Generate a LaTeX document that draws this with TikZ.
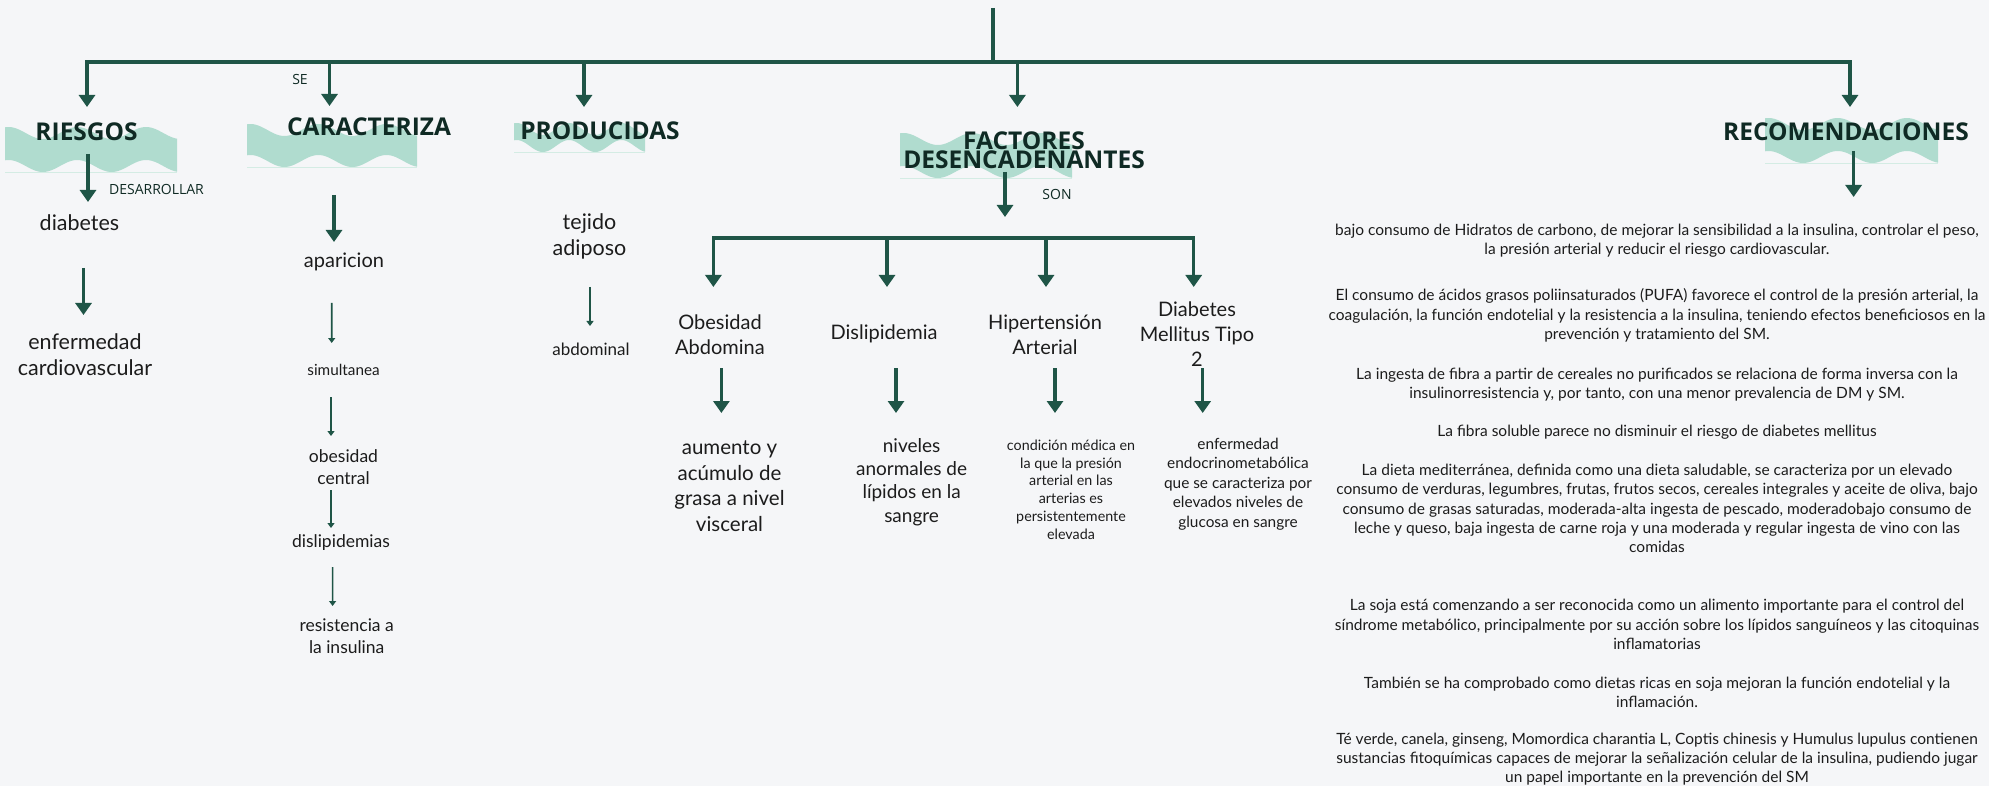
\documentclass[tikz,border=0pt]{standalone}
\usepackage{fontspec}
\setmainfont{Lato}
\newfontfamily\headfont{Open Sans}
\usetikzlibrary{arrows.meta,calc}

\definecolor{bg}{HTML}{F5F6F8}
\definecolor{ink}{HTML}{1F5547}
\definecolor{mint}{HTML}{B0DCCF}
\definecolor{headink}{HTML}{0F2A24}
\definecolor{txt}{HTML}{1C1C1C}

\newcommand\fs[2]{\fontsize{#1}{#2}\selectfont}

% wavy mint ribbon behind a heading: x0, y0, width, height
\newcommand\ribbon[4]{%
  \fill[mint] plot[domain=0:#3, samples=80, smooth]
      ({#1+\x},{#2+6+6*cos(900*(\x/#3-0.22))})
    -- plot[domain=#3:0, samples=80, smooth]
      ({#1+\x},{#2+#4-6+6*cos(900*(\x/#3-0.22))}) -- cycle;
  \draw[mint!55, line width=0.8pt] (#1,#2+#4) -- (#1+#3,#2+#4);
}

\tikzset{
  bus/.style={ink, line width=3.5pt},
  arr/.style={ink, line width=3.4pt, -{Triangle[width=16pt,length=12pt]}},
  thinarr/.style={ink, line width=1.6pt, -{Triangle[width=7pt,length=5pt]}},
  head/.style={font=\headfont\bfseries\fs{24.5}{19}, text=headink, inner sep=0pt, align=center},
  lbl/.style={font=\headfont\fs{14}{16}, text=headink, inner sep=0pt},
  txtnode/.style={text=txt, inner sep=0pt, align=center},
  para/.style={txtnode, font=\fs{15.5}{19.3}},
}

\begin{document}
\begin{tikzpicture}[x=1pt,y=-1pt]
\useasboundingbox (0,0) rectangle (1989,786);
\fill[bg] (0,0) rectangle (1989,786);

% ribbons behind the headings
\ribbon{5}{127}{172}{45}
\ribbon{247}{124}{170}{43}
\ribbon{514}{123}{131}{29}
\ribbon{900}{133}{172}{45}
\ribbon{1765}{118}{173}{45}

% headings
\node[head] (riesgos) at (86.6,132) {RIESGOS};
\node[head] (cara) at (369,127) {CARACTERIZA};
\node[head] (prod) at (600,131) {PRODUCIDAS};
\node[head] (fact) at (1024,150) {FACTORES\\DESENCADENANTES};
\node[head] (recom) at (1846,132) {RECOMENDACIONES};

% main bus
\coordinate (root) at (993,8);
\coordinate (jr) at (993,62);
\coordinate (bL) at (87,62);
\coordinate (bC) at (329.5,62);
\coordinate (bP) at (584,62);
\coordinate (bF) at (1017.4,62);
\coordinate (bR) at (1850,62);
\draw[bus] (root) -- (jr);
\draw[arr, {Triangle[width=16pt,length=12pt]}-{Triangle[width=16pt,length=12pt]}, line join=miter]
  ($(bL |- riesgos.center)+(0,-25)$) -- (bL) -- (bR) -- ($(bR |- recom.center)+(0,-25)$);
\draw[arr] (bC) -- ($(bC |- cara.center)+(0,-21)$);
\draw[arr] (bP) -- ($(bP |- prod.center)+(0,-24)$);
\draw[arr] (bF) -- ($(bF |- fact.center)+(0,-43)$);

% small link words
\node[lbl] (se) at (300,80) {SE};
\node[lbl] (desa) at (156.5,189) {DESARROLLAR};
\node[lbl] (son) at (1057,194) {SON};

% RIESGOS branch
\node[txtnode, font=\fs{21.5}{26}] (diab) at (79.5,223) {diabetes};
\node[txtnode, font=\fs{21.5}{26}] (enf) at (85,355) {enfermedad\\cardiovascular};
\draw[arr] ($(riesgos.center)+(1.4,22)$) -- ($(diab.center)+(8.5,-21)$);
\draw[arr] ($(diab.center)+(4,45)$) -- ($(enf.center)+(-1.5,-40)$);

% CARACTERIZA branch
\node[txtnode, font=\fs{20}{25}] (apar) at (344,262) {aparicion};
\node[txtnode, font=\fs{15.3}{19}] (sim) at (343.6,370) {simultanea};
\node[txtnode, font=\fs{17.5}{22}] (obes) at (343.5,467) {obesidad\\central};
\node[txtnode, font=\fs{17.5}{22}] (disl) at (341,543) {dislipidemias};
\node[txtnode, font=\fs{17.5}{22}] (resi) at (346.7,636) {resistencia a\\la insulina};
\draw[arr] ($(cara.center)+(-35,68)$) -- ($(apar.center)+(-10,-20)$);
\draw[thinarr] ($(apar.center)+(-12.3,41)$) -- ($(sim.center)+(-11.9,-27)$);
\draw[thinarr] ($(sim.center)+(-12.6,27)$) -- ($(obes.center)+(-12.5,-31)$);
\draw[thinarr] ($(obes.center)+(-12.5,23)$) -- ($(disl.center)+(-10,-15)$);
\draw[thinarr] ($(disl.center)+(-8.4,24)$) -- ($(resi.center)+(-14.1,-30)$);

% PRODUCIDAS branch
\node[txtnode, font=\fs{21.5}{26}] (tej) at (589.5,236) {tejido\\adiposo};
\node[txtnode, font=\fs{17}{21}] (abd) at (591,349) {abdominal};
\draw[thinarr] ($(tej.center)+(0.5,51)$) -- ($(abd.center)+(-1,-23)$);

% FACTORES DESENCADENANTES branch
\coordinate (sonTip) at (1005,217);
\draw[arr] ($(fact.center)+(-19,22)$) -- (sonTip);

\node[txtnode, font=\fs{20}{25}] (obab) at (720,334.5) {Obesidad\\Abdomina};
\node[txtnode, font=\fs{20}{25}] (dlp) at (884,334) {Dislipidemia};
\node[txtnode, font=\fs{20}{25}] (hip) at (1045,334.5) {Hipertensión\\Arterial};
\node[txtnode, font=\fs{20}{25}] (dm) at (1197,334) {Diabetes\\Mellitus Tipo\\2};

\coordinate (f1) at (713.4,238);
\coordinate (f2) at (887,238);
\coordinate (f3) at (1046,238);
\coordinate (f4) at (1193.7,238);
\draw[arr, {Triangle[width=16pt,length=12pt]}-{Triangle[width=16pt,length=12pt]}, line join=miter]
  ($(obab.center)+(-6.6,-47.5)$) -- (f1) -- (f4) -- ($(dm.center)+(-3.3,-47)$);
\draw[arr] (f2) -- ($(dlp.center)+(3,-47)$);
\draw[arr] (f3) -- ($(hip.center)+(1,-47.5)$);

\node[txtnode, font=\fs{20.5}{25.5}] (d1) at (729.5,486) {aumento y\\acúmulo de\\grasa a nivel\\visceral};
\node[txtnode, font=\fs{19}{23.3}] (d2) at (911.6,482) {niveles\\anormales de\\lípidos en la\\sangre};
\node[txtnode, font=\fs{14.3}{17.8}] (d3) at (1071,489.5) {condición médica en\\la que la presión\\arterial en las\\arterias es\\persistentemente\\elevada};
\node[txtnode, font=\fs{15.4}{19.5}] (d4) at (1238,484) {enfermedad\\endocrinometabólica\\que se caracteriza por\\elevados niveles de\\glucosa en sangre};
\draw[arr] ($(obab.center)+(1.4,33.5)$) -- ($(d1.center)+(-8.1,-73)$);
\draw[arr] ($(dlp.center)+(12,34)$) -- ($(d2.center)+(-15.6,-69)$);
\draw[arr] ($(hip.center)+(10,33.5)$) -- ($(d3.center)+(-16,-76.5)$);
\draw[arr] ($(dm.center)+(5.7,34)$) -- ($(d4.center)+(-35.3,-71)$);

% RECOMENDACIONES branch
\node[para] (p1) at (1657,240.5) {bajo consumo de Hidratos de carbono, de mejorar la sensibilidad a la insulina, controlar el peso,\\la presión arterial y reducir el riesgo cardiovascular.};
\node[para] (p2) at (1657,315.5) {El consumo de ácidos grasos poliinsaturados (PUFA) favorece el control de la presión arterial, la\\coagulación, la función endotelial y la resistencia a la insulina, teniendo efectos beneficiosos en la\\prevención y tratamiento del SM.};
\node[para] (p3) at (1657,384.5) {La ingesta de fibra a partir de cereales no purificados se relaciona de forma inversa con la\\insulinorresistencia y, por tanto, con una menor prevalencia de DM y SM.};
\node[para] (p4) at (1657,432) {La fibra soluble parece no disminuir el riesgo de diabetes mellitus};
\node[para] (p5) at (1657,508.5) {La dieta mediterránea, definida como una dieta saludable, se caracteriza por un elevado\\consumo de verduras, legumbres, frutas, frutos secos, cereales integrales y aceite de oliva, bajo\\consumo de grasas saturadas, moderada-alta ingesta de pescado, moderadobajo consumo de\\leche y queso, baja ingesta de carne roja y una moderada y regular ingesta de vino con las\\comidas};
\node[para] (p6) at (1657,624.5) {La soja está comenzando a ser reconocida como un alimento importante para el control del\\síndrome metabólico, principalmente por su acción sobre los lípidos sanguíneos y las citoquinas\\inflamatorias};
\node[para] (p7) at (1657,692) {También se ha comprobado como dietas ricas en soja mejoran la función endotelial y la\\inflamación.};
\node[para] (p8) at (1657,759) {Té verde, canela, ginseng, Momordica charantia L, Coptis chinesis y Humulus lupulus contienen\\sustancias fitoquímicas capaces de mejorar la señalización celular de la insulina, pudiendo jugar\\un papel importante en la prevención del SM};
\draw[arr] ($(recom.center)+(7.6,19)$) -- ($(p1.center)+(196.6,-43.5)$);
\end{tikzpicture}
\end{document}
